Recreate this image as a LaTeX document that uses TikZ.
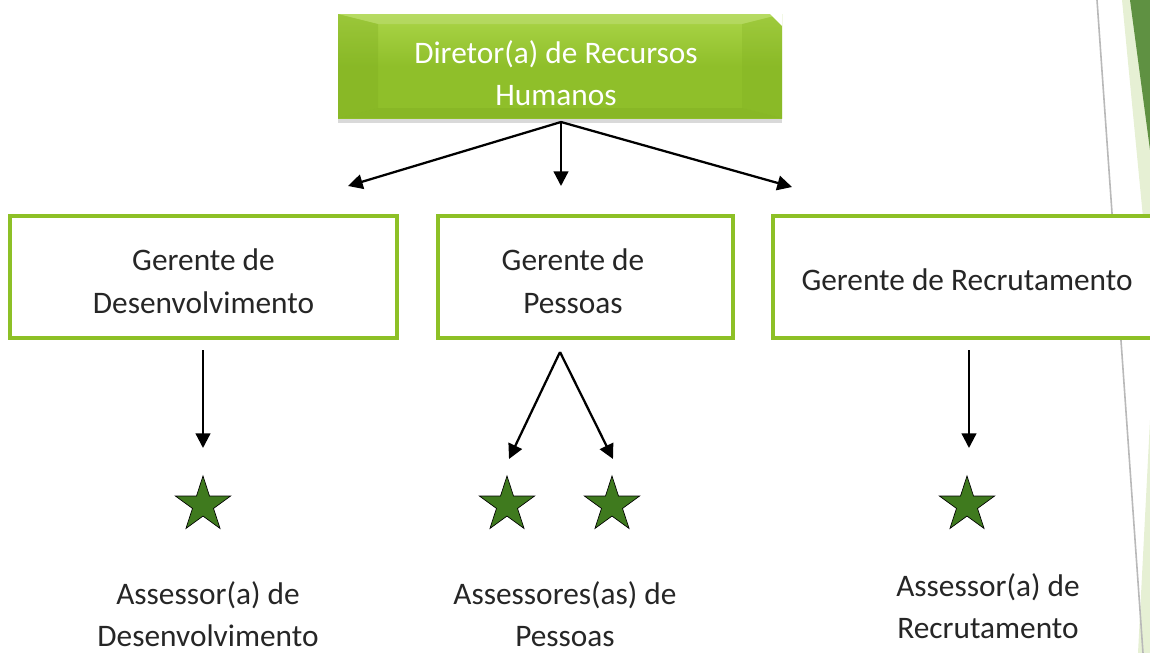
\documentclass[tikz,border=0pt]{standalone}
\usepackage{fontspec}
\setmainfont{Carlito}
\usetikzlibrary{shapes.geometric,arrows.meta,shadows,fadings}
\definecolor{boxgreen}{HTML}{8DC026}
\definecolor{dirgreen}{HTML}{8FBF2A}
\definecolor{dirlight}{HTML}{ABD548}
\definecolor{dirdark}{HTML}{7EAD20}
\definecolor{stargreen}{HTML}{3F7A1E}
\definecolor{decodark}{HTML}{5F9142}
\definecolor{decolight}{HTML}{E6F0D4}
\tikzset{
  gbox/.style={draw=boxgreen, line width=3pt, fill=white, minimum height=91.5pt, inner sep=0pt},
  txt/.style={align=center, font=\fontsize{23.5}{32}\selectfont, text=black!85},
  arr/.style={line width=1.7pt, -{Triangle[length=11pt,width=11pt]}},
  starnode/.style={star, star points=5, star point ratio=2.618, minimum size=43.5pt, inner sep=0pt, fill=stargreen, draw=black, line width=0.5pt},
}
\begin{document}
\begin{tikzpicture}[x=0.75pt,y=-0.75pt]
\useasboundingbox (0,0) rectangle (1150,653);
\clip (0,0) rectangle (1150,653);
% right decoration
\fill[decolight] (1122,0) -- (1150,0) -- (1150,290) -- cycle;
\fill[decolight] (1138,653) -- (1150,420) -- (1150,653) -- cycle;
\fill[decodark] (1130,0) -- (1150,0) -- (1150,150) -- cycle;
\draw[gray!55, line width=1.2pt] (1097,0) -- (1143,653);
% director box
\node[draw=none, minimum width=333pt, minimum height=78pt, inner sep=0pt,
      top color=dirlight, bottom color=dirgreen, middle color=dirgreen,
      drop shadow={opacity=0.3, shadow xshift=0pt, shadow yshift=-4pt}] (dir) at (560,66) {};
\fill[dirdark, opacity=0.35] (338,14) -- (378,24) -- (378,108) -- (338,118) -- cycle;
\fill[dirdark, opacity=0.25] (782,14) -- (742,24) -- (742,108) -- (782,118) -- cycle;
\fill[white, opacity=0.15] (338,14) -- (782,14) -- (742,24) -- (378,24) -- cycle;
\fill[dirdark, opacity=0.4] (338,118) -- (782,118) -- (742,108) -- (378,108) -- cycle;
\fill[white] (770,14) -- (782,14) -- (782,26) -- cycle;
\node[txt, text=white] (dirtext) at (556,73) {Diretor(a) de Recursos\\Humanos};
\coordinate (dirbot) at (561,122);
% manager boxes
\node[gbox, minimum width=290pt] (g1) at (203.5,277) {};
\node[gbox, minimum width=221pt] (g2) at (585.5,277) {};
\node[gbox, minimum width=288pt] (g3) at (965,277) {};
\node[txt] (t1) at (203.5,281) {Gerente de\\Desenvolvimento};
\node[txt] (t2) at (573,281) {Gerente de\\Pessoas};
\node[txt] (t3) at (967,280) {Gerente de Recrutamento};
% arrows top
\coordinate (a1) at (348,186);
\coordinate (a2) at (561,186);
\coordinate (a3) at (792,187);
\draw[arr] (dirbot) -- (a1);
\draw[arr] (dirbot) -- (a2);
\draw[arr] (dirbot) -- (a3);
% stars
\node[starnode] (s1) at (203,505) {};
\node[starnode] (s2) at (507,505) {};
\node[starnode] (s3) at (612,505) {};
\node[starnode] (s4) at (967,505) {};
% lower arrows
\coordinate (b1) at (203,350);
\coordinate (b2) at (560,352);
\coordinate (b3) at (969,350);
\coordinate (e1) at (203,448);
\coordinate (e2) at (509,459);
\coordinate (e3) at (613,459);
\coordinate (e4) at (969,448);
\draw[arr] (b1) -- (e1);
\draw[arr] (b2) -- (e2);
\draw[arr] (b2) -- (e3);
\draw[arr] (b3) -- (e4);
% labels
\node[txt] (l1) at (208,614) {Assessor(a) de\\Desenvolvimento};
\node[txt] (l2) at (565,614) {Assessores(as) de\\Pessoas};
\node[txt] (l3) at (988,606) {Assessor(a) de\\Recrutamento};
\end{tikzpicture}
\end{document}
